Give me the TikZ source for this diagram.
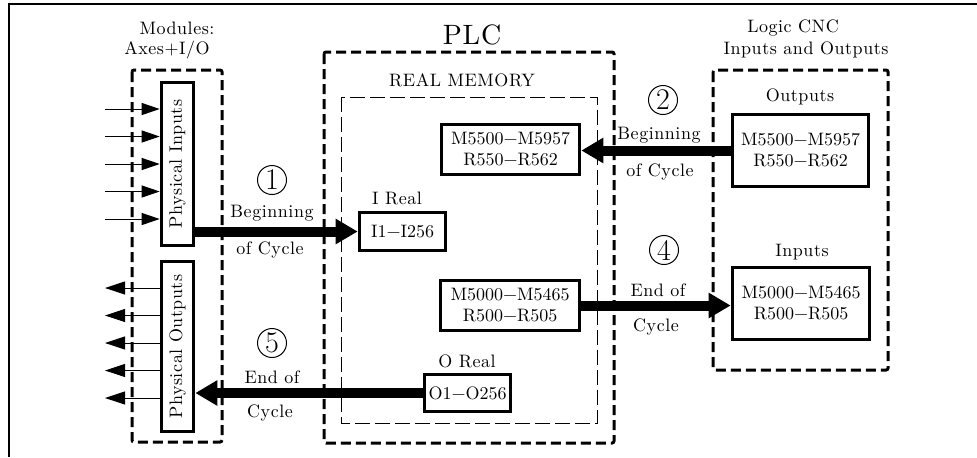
\documentclass[tikz,border=0pt]{standalone}
\usepackage{fontspec}
\newfontfamily\lblfont[LetterSpace=3]{lmroman10-regular.otf}
\newfontfamily\regfont{lmroman10-regular.otf}
\usetikzlibrary{arrows.meta}

\tikzset{
  lbl/.style={font=\fontsize{9}{10}\selectfont\lblfont, inner sep=0pt},
  regbox/.style={draw, line width=1.8pt, align=center, inner sep=0pt,
    font=\fontsize{9}{10.5}\selectfont\regfont},
  iobox/.style={regbox, rotate=90, font=\fontsize{9}{10}\selectfont\lblfont},
  dashbox/.style={line width=1.5pt, dash pattern=on 5pt off 2.5pt, rounded corners=1pt},
  memframe/.style={line width=0.5pt, dash pattern=on 7.5pt off 2.5pt},
  bigarrow/.style={line width=5pt, -{Triangle[length=11pt,width=12pt]}},
  sigline/.style={line width=0.5pt, -{Triangle[length=9pt,width=6pt]}},
  cyclenum/.style={draw, circle, line width=0.5pt, inner sep=0pt,
    minimum size=14.5pt, font=\fontsize{15}{15}\selectfont},
}

\begin{document}
\begin{tikzpicture}[x=0.5pt, y=-0.5pt]
    \useasboundingbox (0,0) rectangle (977,457);
    \draw[line width=1pt] (977,4) -- (9,4) -- (9,457);

    % containers
    \draw[dashbox] (132,70) rectangle (222,442);
    \draw[dashbox] (324,52) rectangle (614,443);
    \draw[memframe] (341,97) rectangle (597,423);
    \draw[dashbox] (713,70) rectangle (888,370);

    % titles
    \node[lbl] (modt) at (177,28) {Modules:};
    \node[lbl] (axt) at (167,50) {Axes+I/O};
    \node[lbl, font=\fontsize{14}{16}\selectfont\lblfont] (plct) at (472,35) {PLC};
    \node[lbl] (memt) at (462,80) {REAL MEMORY};
    \node[lbl] (cnct) at (793,28) {Logic CNC};
    \node[lbl] (iot) at (806,50) {Inputs and Outputs};

    % module boxes
    \node[iobox, minimum width=81.5pt, minimum height=16pt] (pin) at (177.5,164) {Physical Inputs};
    \node[iobox, minimum width=85pt, minimum height=16pt] (pout) at (177.5,346.5) {Physical Outputs};

    % PLC memory
    \node[regbox, minimum width=69pt, minimum height=25pt] (mout) at (510.5,149.5) {M5500−M5957\\R550−R562};
    \node[lbl] (irt) at (397,198) {I Real};
    \node[regbox, minimum width=43pt, minimum height=19pt] (ireal) at (402.5,231.5) {I1−I256};
    \node[regbox, minimum width=69.5pt, minimum height=25pt] (min) at (510,305.5) {M5000−M5465\\R500−R505};
    \node[lbl] (ort) at (467,361) {O Real};
    \node[regbox, minimum width=43pt, minimum height=18.5pt] (oreal) at (467.5,393) {O1−O256};

    % CNC logic
    \node[lbl] (cot) at (800,97) {Outputs};
    \node[regbox, minimum width=68pt, minimum height=36pt] (cncout) at (800.5,150.5) {M5500−M5957\\R550−R562};
    \node[lbl] (cit) at (802,252) {Inputs};
    \node[regbox, minimum width=68.5pt, minimum height=36pt] (cncin) at (801,303.5) {M5000−M5465\\R500−R505};

    % physical signals
    \foreach \y [count=\i] in {109,136.5,164,191.5,219} {
        \coordinate (in\i) at (105,\y);
        \draw[sigline] (in\i) -- (in\i -| pin.north);
    }
    \foreach \y [count=\i] in {288,315.5,343,370.5,398} {
        \coordinate (out\i) at (105,\y);
        \draw[sigline, -{Triangle[length=10pt,width=6.5pt]}] (out\i -| pout.north) -- (out\i);
    }

    % cycle transfers
    \draw[bigarrow] (pin.south |- ireal.west) -- (ireal.west);
    \draw[bigarrow] (cncout.west) -- (cncout.west -| mout.east);
    \draw[bigarrow] (min.east) -- (min.east -| cncin.west);
    \draw[bigarrow] (oreal.west) -- (oreal.west -| pout.south);

    \node[cyclenum] (n1) at (272,180) {1};
    \node[lbl] (b1) at (272,213) {Beginning};
    \node[lbl] (c1) at (270,250) {of Cycle};
    \node[cyclenum] (n2) at (663,100) {2};
    \node[lbl] (b2) at (659,135) {Beginning};
    \node[lbl] (c2) at (660,172) {of Cycle};
    \node[cyclenum] (n4) at (664,250) {4};
    \node[lbl] (e4) at (658,290) {End of};
    \node[lbl] (c4) at (656,327) {Cycle};
    \node[cyclenum] (n5) at (272,343) {5};
    \node[lbl] (e5) at (272,377) {End of};
    \node[lbl] (c5) at (270,413) {Cycle};
\end{tikzpicture}
\end{document}
